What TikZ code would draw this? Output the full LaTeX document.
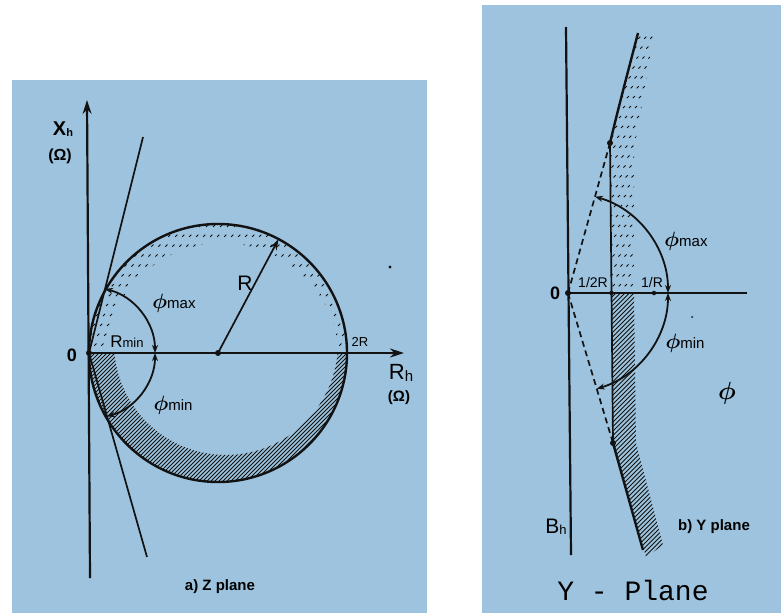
\documentclass[tikz,border=0pt]{standalone}
\usepackage{fontspec}
\setsansfont{Liberation Sans}
\setmonofont{Liberation Mono}
\usepackage{bm}
\usepackage{tikz}
\usetikzlibrary{arrows.meta,calc}
\definecolor{planeBlue}{RGB}{157,195,222}
\definecolor{inkBlack} {RGB}{ 18, 18, 18}

\begin{document}
\begin{tikzpicture}[x=1pt,y=-1pt,
    axisline/.style={line width=2.2pt,inkBlack},
    curveline/.style={line width=2.4pt,inkBlack},
    thinline/.style={line width=1.7pt,inkBlack},
    hatchline/.style={line width=1pt,inkBlack},
    sparsehatch/.style={line width=1pt,inkBlack,dash pattern=on 3pt off 11pt},
    dimarc/.style={line width=1.8pt,inkBlack,{Stealth[length=8pt,width=6pt]}-{Stealth[length=8pt,width=6pt]}},
    lbl/.style={font=\sffamily,inner sep=0pt},
    boldlbl/.style={font=\sffamily\bfseries,inner sep=0pt},
    dot/.style={circle,fill=inkBlack,inner sep=0pt,minimum size=6pt}]
  \useasboundingbox (0,0) rectangle (781,613);
  \fill[planeBlue] (12,80) rectangle (427,613);
  \fill[planeBlue] (482,5) rectangle (781,613);

  % a) Z plane
  \coordinate (O) at (89,353);
  \coordinate (C) at (218,353);
  \coordinate (Xbot) at (90,578);
  \coordinate (Xtop) at (87,100);
  \coordinate (Rtip) at (404,353);
  \coordinate (T1) at (143,137);
  \coordinate (T2) at (147,557);
  \coordinate (Rpt) at ($(C)+(-62:129)$);
  \begin{scope}[even odd rule]
    \clip (0,353) rectangle (430,613);
    \clip (C) circle[radius=129] (226,343) circle[radius=112];
    \foreach \s in {436,440,...,840}
      \draw[hatchline] (\s-613,613) -- (\s,0);
  \end{scope}
  \begin{scope}[even odd rule]
    \clip (0,0) rectangle (430,353);
    \clip (C) circle[radius=129] (222,360) circle[radius=117];
    \foreach \s in {300,307,...,720}
      \draw[sparsehatch] (\s-613,613) -- (\s,0);
  \end{scope}
  \draw[axisline,-{Stealth[length=14pt,width=9pt]}] (Xbot) -- (Xtop);
  \draw[axisline,-{Stealth[length=14pt,width=9pt]}] (O) -- (Rtip);
  \draw[curveline] (C) circle[radius=129];
  \draw[thinline] (O) -- (T1);
  \draw[thinline] (O) -- (T2);
  \draw[thinline,-{Stealth[length=11pt,width=7pt]}] (C) -- (Rpt);
  \draw[dimarc] ($(O)+(0:66)$) arc[start angle=0,end angle=-76,radius=66];
  \draw[dimarc] ($(O)+(0:66)$) arc[start angle=0,end angle=74,radius=66];
  \node[dot] (Odot) at (O) {};
  \node[dot] (Cdot) at (C) {};
  \fill[inkBlack] (390,267) circle[radius=1.6];

  \node[boldlbl] (xlab) at (63,129) {\fontsize{20}{20}\selectfont X\raisebox{-1pt}{\fontsize{11}{11}\selectfont h}};
  \node[boldlbl] (xunit) at (60,156) {\fontsize{16}{16}\selectfont(Ω)};
  \node[boldlbl] (zero1) at (72,355) {\fontsize{18}{18}\selectfont 0};
  \node[lbl] (rmin) at (127,342) {\fontsize{17}{17}\selectfont R\fontsize{13}{13}\selectfont min};
  \node[lbl] (phimax1) at (174,303) {\fontsize{22}{22}\selectfont$\bm{\phi}$\fontsize{15}{15}\selectfont max};
  \node[lbl] (phimin1) at (173,405) {\fontsize{22}{22}\selectfont$\bm{\phi}$\fontsize{15}{15}\selectfont min};
  \node[lbl] (rlab) at (245,283) {\fontsize{21}{21}\selectfont R};
  \node[lbl] (tworlab) at (360,342) {\fontsize{13}{13}\selectfont 2R};
  \node[lbl] (rhlab) at (401,373) {\fontsize{22}{22}\selectfont R\raisebox{-2pt}{\fontsize{15}{15}\selectfont h}};
  \node[boldlbl] (rhunit) at (399,398) {\fontsize{15}{15}\selectfont(Ω)};
  \node[boldlbl] (zcap) at (220,587) {\fontsize{15}{15}\selectfont a) Z plane};

  % b) Y plane
  \coordinate (P) at (568,293);
  \coordinate (Btop) at (566,27);
  \coordinate (Bbot) at (571,555);
  \coordinate (Gend) at (747,293);
  \coordinate (U) at (610,143);
  \coordinate (L) at (613,443);
  \coordinate (Utop) at (638,33);
  \coordinate (Lbot) at (643,550);
  \coordinate (Ghalf) at (611.5,293);
  \coordinate (Gfull) at (654,293);
  \begin{scope}
    \clip (Ghalf) -- (634,293) -- (636,443) -- (663,545) -- (646,557) -- (L) -- cycle;
    \foreach \s in {900,904.5,...,1215}
      \draw[hatchline] (\s-613,613) -- (\s,0);
  \end{scope}
  \begin{scope}
    \clip (U) -- (Utop) -- (654,36) -- (634,150) -- (634,293) -- (Ghalf) -- cycle;
    \foreach \s in {665,671,...,930}
      \draw[sparsehatch] (\s-613,613) -- (\s,0);
  \end{scope}
  \draw[axisline] (Btop) -- (Bbot);
  \draw[thinline] (P) -- (Gend);
  \draw[thinline] (U) -- (L);
  \draw[curveline] (U) .. controls (619,105) and (630,64) .. (Utop);
  \draw[curveline] (L) -- (Lbot);
  \draw[thinline,dash pattern=on 6pt off 4pt] (P) -- (U);
  \draw[thinline,dash pattern=on 6pt off 4pt] (P) -- (L);
  \draw[dimarc] ($(P)+(0:100)$) arc[start angle=0,end angle=-74.4,radius=100];
  \draw[dimarc] ($(P)+(0:100)$) arc[start angle=0,end angle=73.3,radius=100];
  \node[dot] (Pdot) at (P) {};
  \node[dot] (Udot) at (U) {};
  \node[dot] (Ldot) at (L) {};
  \node[dot,minimum size=4.5pt] (Ghdot) at (Ghalf) {};
  \node[dot,minimum size=4.5pt] (Gfdot) at (Gfull) {};
  \fill[inkBlack] (692,317) circle[radius=1];

  \node[boldlbl] (zero2) at (555,293) {\fontsize{18}{18}\selectfont 0};
  \node[lbl] (halfr) at (593,282) {\fontsize{14}{14}\selectfont 1/2R};
  \node[lbl] (fullr) at (652,282) {\fontsize{14}{14}\selectfont 1/R};
  \node[lbl] (phimax2) at (686,241) {\fontsize{22}{22}\selectfont$\bm{\phi}$\fontsize{15}{15}\selectfont max};
  \node[lbl] (phimin2) at (685,343) {\fontsize{22}{22}\selectfont$\bm{\phi}$\fontsize{15}{15}\selectfont min};
  \node[lbl] (phibig) at (727,393) {\fontsize{30}{30}\selectfont$\bm{\phi}$};
  \node[lbl] (bhlab) at (556,527) {\fontsize{21}{21}\selectfont B\raisebox{-1pt}{\fontsize{13}{13}\selectfont h}};
  \node[boldlbl] (ycap) at (714,527) {\fontsize{15}{15}\selectfont b) Y plane};
  \node[inner sep=0pt,font=\ttfamily] (ytitle) at (633,590) {\fontsize{28}{28}\selectfont Y - Plane};
\end{tikzpicture}
\end{document}
